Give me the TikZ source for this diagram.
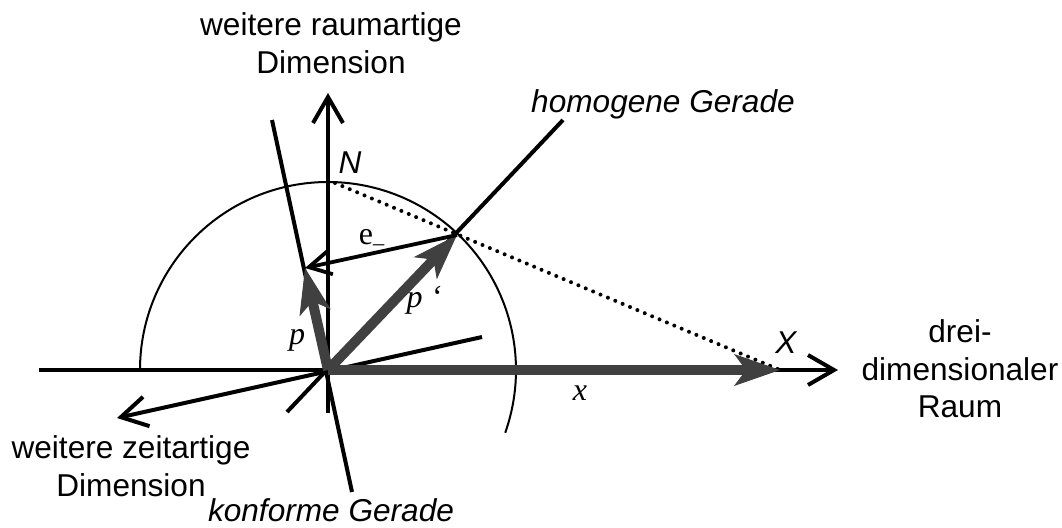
\documentclass[tikz,border=0pt]{standalone}
\usepackage{fontspec}
\setmainfont{Liberation Sans}
\newfontfamily\seriffont{Liberation Serif}
\usetikzlibrary{arrows.meta,positioning}
\definecolor{vecgray}{RGB}{64,64,64}

\begin{document}
\begin{tikzpicture}[x=0.5pt,y=-0.5pt,
  axisline/.style={line width=2pt},
  axisarrow/.style={line width=2pt,-{Straight Barb[length=13pt,width=15pt]}},
  evec/.style={line width=1.9pt,-{Straight Barb[length=11pt,width=12pt]}},
  vec/.style={vecgray,line width=5pt,-{Stealth[length=23pt,width=16pt,inset=6pt,line width=0.5pt]}},
  circ/.style={line width=1pt},
  dotline/.style={line width=2pt,line cap=round,dash pattern=on 0pt off 4pt},
  lbl/.style={font=\fontsize{15.8}{18.8}\selectfont,align=center,inner sep=0pt},
  ilbl/.style={lbl,font=\fontsize{15.8}{18.8}\selectfont\itshape},
  mlbl/.style={inner sep=0pt,font=\fontsize{16}{19}\selectfont\seriffont\itshape}]
\useasboundingbox (0,0) rectangle (1062,527);

% reference points (picture in pixel units, y downwards)
\coordinate (O) at (328,370);
\coordinate (N) at (328,182);
\coordinate (X) at (780,370);
\coordinate (P) at (305,268);
\coordinate (Pq) at (457,235);
\coordinate (hleft) at (39,370);
\coordinate (hright) at (838,370);
\coordinate (vlow) at (328,413);
\coordinate (vtop) at (328,93);
\coordinate (ktop) at (272,120);
\coordinate (kbot) at (352,492);
\coordinate (glow) at (287,412);
\coordinate (gtop) at (563,120);
\coordinate (tfar) at (117,418);
\coordinate (tnear) at (482,337);

% unit circle (upper part)
\draw[circ] (140,370) arc[start angle=180, end angle=379.5, radius=188];
% stereographic projection N -> X
\draw[dotline] (335,183) -- (X);

% axes
\draw[axisarrow] (hleft) -- (hright);
\draw[axisarrow] (vlow) -- (vtop);
\draw[axisarrow] (tnear) -- (tfar);
% konforme and homogene Gerade
\draw[axisline] (kbot) -- (ktop);
\draw[axisline] (glow) -- (gtop);

% vectors
\draw[vec] (O) -- (X);
\draw[vec] (O) -- (Pq);
\draw[vec] (O) -- (P);
\draw[evec] (Pq) -- (P);

% labels
\node[lbl] (raum) at (331,43) {weitere raumartige\\Dimension};
\node[ilbl,anchor=base] (homog) at (663,112) {homogene Gerade};
\node[ilbl] (nlab) at (350,163) {N};
\node[lbl,font=\fontsize{16}{19}\selectfont\seriffont] (elab) at (372,240) {e\textsubscript{–}};
\node[mlbl] (plab) at (297,340) {p};
\node[mlbl] (pqlab) at (424,300) {p ‘};
\node[mlbl] (xlab) at (580,393) {x};
\node[ilbl] (Xlab) at (786,343) {X};
\node[lbl] (drei) at (960,369) {drei-\\dimensionaler\\Raum};
\node[lbl] (zeit) at (131,466) {weitere zeitartige\\Dimension};
\node[ilbl,anchor=base] (konf) at (331,521) {konforme Gerade};
\end{tikzpicture}
\end{document}
